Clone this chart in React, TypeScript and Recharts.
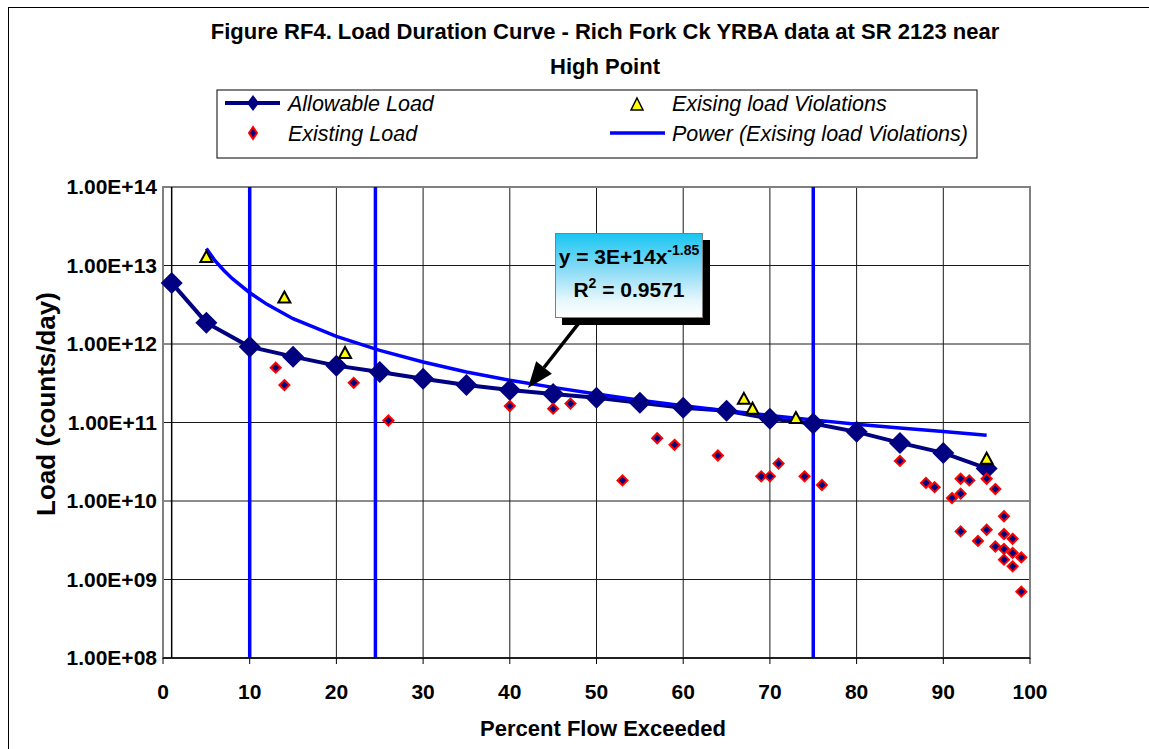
import React from "react";
import {
  ComposedChart,
  Line,
  Scatter,
  XAxis,
  YAxis,
  CartesianGrid,
  ReferenceLine,
  ReferenceArea,
} from "recharts";

const FONT = "'Liberation Sans', Arial, Helvetica, sans-serif";

// allowable load at each flow percentile
const allowableX = [1, 5, 10, 15, 20, 25, 30, 35, 40, 45, 50, 55, 60, 65, 70, 75, 80, 85, 90, 95];
const allowableLoad = [
  6.0e12, 1.87e12, 9.2e11, 6.9e11, 5.3e11, 4.4e11, 3.6e11, 3.0e11, 2.6e11, 2.3e11,
  2.07e11, 1.79e11, 1.54e11, 1.41e11, 1.12e11, 9.7e10, 7.6e10, 5.5e10, 4.1e10, 2.6e10,
];

// measured (existing) loads
const existingX = [
  13, 14, 22, 26, 40, 45, 47, 53, 57, 59, 64, 69, 70, 71, 74, 76, 85, 88, 89, 91,
  92, 92, 93, 95, 96, 97, 92, 94, 95, 96, 97, 98, 97, 98, 97, 98, 99, 99,
];
const existingLoad = [
  5.0e11, 3.0e11, 3.2e11, 1.06e11, 1.62e11, 1.5e11, 1.74e11, 1.83e10, 6.3e10, 5.2e10,
  3.8e10, 2.06e10, 2.06e10, 3.0e10, 2.06e10, 1.6e10, 3.24e10, 1.7e10, 1.5e10, 1.09e10,
  1.92e10, 1.24e10, 1.83e10, 1.92e10, 1.42e10, 6.4e9, 4.1e9, 3.1e9, 4.3e9, 2.63e9,
  3.8e9, 3.3e9, 2.45e9, 2.18e9, 1.79e9, 1.47e9, 1.91e9, 7.0e8,
];

// existing loads above the allowable curve
const violationX = [5, 14, 21, 67, 68, 73, 95];
const violationLoad = [1.28e13, 3.9e12, 7.7e11, 2.0e11, 1.5e11, 1.14e11, 3.46e10];

// power trendline through the violations
const trendX = [5, 6, 7, 8, 10, 12, 15, 20, 25, 30, 35, 40, 45, 50, 55, 60, 65, 70, 75, 80, 85, 90, 95];
const trendLoad = [
  1.65e13, 1.15e13, 8.7e12, 6.8e12, 4.5e12, 3.2e12, 2.1e12, 1.25e12, 8.3e11, 5.9e11,
  4.4e11, 3.45e11, 2.8e11, 2.3e11, 1.92e11, 1.63e11, 1.41e11, 1.23e11, 1.08e11,
  9.5e10, 8.5e10, 7.7e10, 6.9e10,
];

const flowBreaks = [10, 24.5, 75];
const xTicks = [0, 10, 20, 30, 40, 50, 60, 70, 80, 90, 100];
const yTicks = [1e8, 1e9, 1e10, 1e11, 1e12, 1e13, 1e14];

const toPoints = (xs: number[], ys: number[]) => xs.map((x, i) => ({ x, y: ys[i] }));

const allowableData = toPoints(allowableX, allowableLoad);
const existingData = toPoints(existingX, existingLoad);
const violationData = toPoints(violationX, violationLoad);
const trendData = toPoints(trendX, trendLoad);

const fmtExp = (v: number) => {
  const e = Math.round(Math.log10(v));
  const m = v / Math.pow(10, e);
  return `${m.toFixed(2)}E+${String(e).padStart(2, "0")}`;
};

const diamond = (cx: number, cy: number, w: number, h: number) =>
  `M${cx},${cy - h} L${cx + w},${cy} L${cx},${cy + h} L${cx - w},${cy} Z`;

const AllowableDot = (p: any) => {
  if (p.cx == null || p.cy == null) return <g key={p.index} />;
  return <path key={p.index} d={diamond(p.cx, p.cy, 11, 11)} fill="#000080" />;
};

const ExistingShape = (p: any) => (
  <path d={diamond(p.cx, p.cy, 5, 5)} fill="#000080" stroke="#ff0000" strokeWidth={2} />
);

const ViolationShape = (p: any) => (
  <polygon
    points={`${p.cx},${p.cy - 6} ${p.cx + 6},${p.cy + 5} ${p.cx - 6},${p.cy + 5}`}
    fill="#ffff00"
    stroke="#000"
    strokeWidth={2}
  />
);

// callout arrow from the equation box down to the trendline
const Arrow = (p: any) => {
  const { x1, y1, x2, y2 } = p;
  const ang = Math.atan2(y2 - y1, x2 - x1);
  const len = 26;
  const half = 10;
  const bx = x2 - len * Math.cos(ang);
  const by = y2 - len * Math.sin(ang);
  const nx = -Math.sin(ang);
  const ny = Math.cos(ang);
  return (
    <g>
      <line x1={x1} y1={y1} x2={bx} y2={by} stroke="#000" strokeWidth={3.5} />
      <polygon
        points={`${x2},${y2} ${bx + nx * half},${by + ny * half} ${bx - nx * half},${by - ny * half}`}
        fill="#000"
      />
    </g>
  );
};

const tickStyle = { fontSize: 21, fontWeight: 700, fill: "#000", fontFamily: FONT };

const App: React.FC = () => {
  return (
    <div
      style={{
        position: "fixed",
        left: 0,
        top: 0,
        width: 1149,
        height: 749,
        overflow: "hidden",
        background: "#fff",
        fontFamily: FONT,
      }}
    >
      {/* outer chart frame */}
      <div
        style={{
          position: "absolute",
          left: 8,
          top: 7,
          width: 1200,
          height: 800,
          border: "1px solid #000",
        }}
      />

      <div style={{ position: "absolute", left: 0, top: 0 }}>
        <ComposedChart
          width={1149}
          height={749}
          margin={{ top: 187, right: 119, bottom: 51, left: 13 }}
        >
          <CartesianGrid stroke="#1a1a1a" strokeWidth={1} />
          <XAxis
            type="number"
            dataKey="x"
            domain={[0, 100]}
            ticks={xTicks}
            interval={0}
            height={40}
            tick={tickStyle}
            tickSize={6}
            tickMargin={20}
            axisLine={{ stroke: "#000", strokeWidth: 1.5 }}
            tickLine={{ stroke: "#000" }}
          />
          <YAxis
            type="number"
            dataKey="y"
            scale="log"
            domain={[1e8, 1e14]}
            ticks={yTicks}
            interval={0}
            allowDataOverflow
            width={150}
            tick={tickStyle}
            tickFormatter={fmtExp}
            tickSize={0}
            tickMargin={6}
            axisLine={false}
            tickLine={false}
          />
          <ReferenceArea
            x1={0}
            x2={100}
            y1={1e8}
            y2={1e14}
            fill="none"
            fillOpacity={0}
            stroke="#808080"
            strokeWidth={2}
          />
          <ReferenceLine x={1} stroke="#000" strokeWidth={1.5} />
          <Line
            data={allowableData}
            dataKey="y"
            type="linear"
            stroke="#000080"
            strokeWidth={4}
            dot={AllowableDot}
            activeDot={false}
            isAnimationActive={false}
          />
          <Scatter
            data={existingData}
            dataKey="y"
            shape={ExistingShape}
            isAnimationActive={false}
          />
          <Scatter
            data={violationData}
            dataKey="y"
            shape={ViolationShape}
            isAnimationActive={false}
          />
          <Line
            data={trendData}
            dataKey="y"
            type="linear"
            stroke="#0000ff"
            strokeWidth={3.5}
            dot={false}
            activeDot={false}
            isAnimationActive={false}
          />
          {flowBreaks.map((x) => (
            <ReferenceLine key={x} x={x} stroke="#0000ff" strokeWidth={3.5} />
          ))}
          <ReferenceLine
            segment={[
              { x: 48.5, y: 2.2e12 },
              { x: 42.1, y: 2.75e11 },
            ]}
            shape={Arrow}
          />
        </ComposedChart>
      </div>

      {/* titles, axis labels and legend */}
      <svg
        width={1149}
        height={749}
        style={{ position: "absolute", left: 0, top: 0, pointerEvents: "none" }}
      >
        <g fontFamily={FONT} fontWeight={700} fontSize={22} fill="#000" textAnchor="middle">
          <text x={605} y={39}>
            Figure RF4. Load Duration Curve - Rich Fork Ck YRBA data at SR 2123 near
          </text>
          <text x={605} y={74}>
            High Point
          </text>
          <text x={603} y={736}>
            Percent Flow Exceeded
          </text>
          <text x={55} y={404} fontSize={26} transform="rotate(-90 55 404)">
            Load (counts/day)
          </text>
        </g>

        <rect x={217} y={90} width={760} height={68} fill="#fff" stroke="#000" strokeWidth={1} />
        <line x1={225} y1={103} x2={280} y2={103} stroke="#000080" strokeWidth={4} />
        <path d={diamond(253, 103, 6, 8)} fill="#000080" />
        <path d={diamond(253, 133, 4, 6)} fill="#000080" stroke="#ff0000" strokeWidth={2} />
        <polygon points="637,98 643,110 631,110" fill="#ffff00" stroke="#000" strokeWidth={1.5} />
        <line x1={610} y1={133} x2={665} y2={133} stroke="#0000ff" strokeWidth={3.5} />
        <g fontFamily={FONT} fontStyle="italic" fontSize={21.5} fill="#000">
          <text x={288} y={111}>Allowable Load</text>
          <text x={288} y={141}>Existing Load</text>
          <text x={672} y={111}>Exising load Violations</text>
          <text x={672} y={141}>Power (Exising load Violations)</text>
        </g>
      </svg>

      {/* trendline equation box */}
      <div
        style={{
          position: "absolute",
          left: 555,
          top: 233,
          width: 146,
          height: 83,
          border: "1px solid #7f7f7f",
          boxShadow: "7px 7px 0 #000",
          background: "linear-gradient(to bottom, #19c6f2 0%, #8fdcf6 45%, #e6f7fd 80%, #ffffff 100%)",
        }}
      >
        <svg width={146} height={83} style={{ display: "block" }}>
          <g fontFamily={FONT} fontWeight={700} fontSize={21} fill="#000" textAnchor="middle">
            <text x={73} y={30}>
              y = 3E+14x
              <tspan fontSize={14} dy={-9}>
                -1.85
              </tspan>
            </text>
            <text x={73} y={63}>
              R
              <tspan fontSize={14} dy={-9}>
                2
              </tspan>
              <tspan dy={9}> = 0.9571</tspan>
            </text>
          </g>
        </svg>
      </div>
    </div>
  );
};

export default App;
